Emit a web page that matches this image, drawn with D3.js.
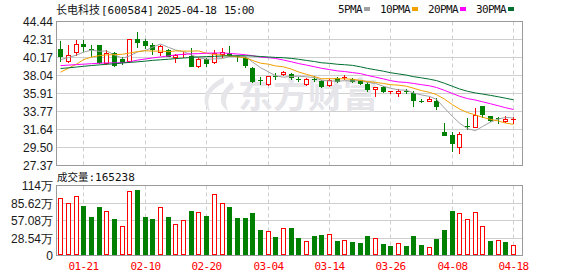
<!DOCTYPE html>
<html>
<head>
<meta charset="utf-8">
<script src="https://d3js.org/d3.v7.min.js"></script>
<style>
  html, body { margin: 0; padding: 0; background: #fff; }
  svg { display: block; }
</style>
</head>
<body>
<script>
// daily bars, 2025-01-16 .. 2025-04-18
const dates = ["01-16","01-17","01-20","01-21","01-22","01-23","01-24","01-27","02-05","02-06",
  "02-07","02-10","02-11","02-12","02-13","02-14","02-17","02-18","02-19","02-20",
  "02-21","02-24","02-25","02-26","02-27","02-28","03-03","03-04","03-05","03-06",
  "03-07","03-10","03-11","03-12","03-13","03-14","03-17","03-18","03-19","03-20",
  "03-21","03-24","03-25","03-26","03-27","03-28","03-31","04-01","04-02","04-03",
  "04-07","04-08","04-09","04-10","04-11","04-14","04-15","04-16","04-17","04-18"];

const opens = [41.19, 39.72, 40.81, 41.82, 41.22, 41.62, 39.53, 40.72, 40.00, 39.72,
  42.38, 42.18, 41.70, 40.79, 41.11, 40.24, 40.46, 40.40, 39.12, 40.00,
  39.68, 40.63, 40.69, 40.40, 40.10, 38.93, 37.45, 37.07, 37.97, 38.22,
  38.25, 37.58, 37.07, 37.62, 37.42, 36.91, 37.74, 37.80, 37.62, 37.46,
  37.07, 36.41, 36.67, 36.15, 35.98, 36.23, 35.96, 35.07, 35.04, 35.04,
  31.39, 30.99, 29.61, 32.03, 31.99, 34.45, 33.26, 33.00, 32.70, 32.75];

const highs = [42.18, 41.62, 42.30, 42.22, 41.70, 41.70, 41.03, 40.79, 40.24, 42.42,
  43.17, 42.38, 41.86, 41.70, 41.23, 40.63, 40.87, 41.26, 40.22, 40.16,
  41.11, 41.35, 41.55, 40.48, 40.19, 39.05, 37.86, 38.02, 38.29, 38.61,
  38.29, 37.90, 37.72, 37.98, 37.54, 37.62, 37.86, 38.14, 37.74, 37.54,
  37.24, 36.71, 36.74, 36.18, 36.41, 36.41, 36.20, 35.28, 35.44, 35.34,
  32.42, 31.39, 31.39, 32.99, 34.17, 34.45, 33.28, 33.17, 33.22, 33.10];

const lows = [39.72, 39.65, 40.46, 40.99, 40.39, 39.53, 39.41, 39.21, 39.41, 39.62,
  41.47, 41.31, 40.63, 40.48, 40.31, 39.60, 40.24, 39.12, 39.05, 39.21,
  39.50, 40.22, 40.34, 39.80, 39.05, 37.24, 36.98, 36.95, 37.62, 38.14,
  37.60, 37.40, 36.95, 37.40, 36.67, 36.74, 37.22, 37.66, 37.22, 37.07,
  36.23, 35.58, 36.08, 35.93, 35.64, 35.99, 34.45, 34.84, 35.01, 34.09,
  31.03, 29.13, 28.89, 31.68, 31.99, 33.11, 32.66, 32.40, 32.55, 32.42];

const closes = [40.31, 40.48, 41.80, 41.50, 41.15, 39.59, 40.75, 39.33, 39.68, 42.38,
  42.03, 41.62, 41.23, 41.59, 40.40, 40.48, 40.63, 39.21, 39.98, 39.53,
  40.69, 40.79, 40.46, 40.22, 39.33, 37.42, 37.40, 37.98, 37.93, 38.46,
  37.90, 37.52, 37.58, 37.55, 36.83, 37.46, 37.42, 37.84, 37.36, 37.18,
  36.41, 36.67, 36.20, 36.17, 36.22, 36.19, 35.08, 35.02, 35.28, 34.48,
  31.03, 30.08, 31.12, 31.95, 33.35, 33.45, 32.72, 32.95, 32.90, 32.93];

// volume in 万手
const volumes = [93.8, 85.5, 97.1, 81.0, 62.9, 79.4, 72.8, 59.6, 47.4, 105.4,
  106.4, 62.9, 59.6, 78.9, 62.9, 51.3, 57.9, 72.8, 70.6, 64.5,
  100.9, 86.0, 78.3, 61.8, 61.8, 70.0, 41.4, 39.7, 29.8, 44.1,
  45.2, 28.1, 23.2, 31.4, 33.1, 34.7, 23.2, 24.8, 22.1, 20.4,
  31.4, 28.1, 18.2, 14.9, 19.9, 14.9, 31.4, 16.5, 14.3, 26.5,
  41.4, 72.8, 69.0, 59.0, 70.6, 47.4, 23.2, 25.9, 21.5, 16.52];

const prevClose = 40.10;   // close of 01-15

// MA values before a full window is on screen
const ma5Head = [39.92, 40.16, 40.46, 40.81];
const ma10Head = [38.43, 38.91, 39.39, 39.92, 40.22, 40.40, 40.48, 40.51, 40.56];
const ma20Head = [39.21, 39.27, 39.33, 39.38, 39.44, 39.49, 39.53, 39.54, 39.56, 39.66,
  39.86, 40.00, 40.12, 40.24, 40.36, 40.48, 40.55, 40.61, 40.63];
const ma30Head = [38.87, 38.95, 39.04, 39.13, 39.22, 39.30, 39.37, 39.43, 39.52, 39.59,
  39.66, 39.74, 39.83, 39.90, 39.97, 40.04, 40.11, 40.18, 40.24, 40.28,
  40.31, 40.35, 40.37, 40.38, 40.38, 40.35, 40.29, 40.23, 40.18];

const priceTicks = [44.44, 42.31, 40.17, 38.04, 35.91, 33.77, 31.64, 29.50, 27.37];
const volTicks = [0, 28.54, 57.08, 85.62, 114.16];
const volTickLabels = ["0", "28.54万", "57.08万", "85.62万", "114万"];
const dateTicks = ["01-21", "02-10", "02-20", "03-04", "03-14", "03-26", "04-08", "04-18"];
const maNames = ["5PMA", "10PMA", "20PMA", "30PMA"];

const stockTitle = "长电科技";
const stockCode = "[600584]";
const stamp = ["2025-04-18", "15:00"];
const volTitle = "成交量:165238";

const WIDTH = 578, HEIGHT = 276;
const PLOT_L = 56.5, PLOT_R = 522.5;
const MAIN_T = 21.5, MAIN_B = 165.5, VOL_T = 185.5, VOL_B = 255.5;
const RED = "#ff0000", GREEN = "#008000";
const MA_COLORS = ["#a0a0a0", "#f2a100", "#ff00ff", "#006f30"];
const MONO = "'DejaVu Sans Mono', monospace";
const CJK = "'Noto Sans CJK SC', sans-serif";
const SANS = "'Liberation Sans', Arial, sans-serif";

const svg = d3.select("body").append("svg")
    .attr("width", WIDTH)
    .attr("height", HEIGHT);

const x = d3.scaleBand().domain(dates).range([57, 517.5]);
const cx = d => Math.floor(x(d) + x.bandwidth() / 2) + 0.5;
const y = d3.scaleLinear().domain([27.37, 44.44]).range([MAIN_B, MAIN_T]);
const yv = d3.scaleLinear().domain([0, 114.16]).range([VOL_B, VOL_T]);
const snap = v => Math.floor(v) + 0.5;

// grid + frames
function drawPanel(top, bottom, scale, ticks) {
    const g = svg.append("g");
    g.selectAll(".h").data(ticks).enter().append("line")
        .attr("x1", PLOT_L).attr("x2", PLOT_R)
        .attr("y1", d => snap(scale(d))).attr("y2", d => snap(scale(d)))
        .attr("stroke", "#cfcfcf");
    g.selectAll(".v").data(dateTicks).enter().append("line")
        .attr("x1", d => cx(d)).attr("x2", d => cx(d))
        .attr("y1", top).attr("y2", bottom)
        .attr("stroke", "#cfcfcf")
        .attr("stroke-dasharray", "4,3");
    g.append("rect")
        .attr("x", PLOT_L).attr("y", top)
        .attr("width", PLOT_R - PLOT_L).attr("height", bottom - top)
        .attr("fill", "none").attr("stroke", "#9a9a9a");
}
drawPanel(MAIN_T, MAIN_B, y, priceTicks);
drawPanel(VOL_T, VOL_B, yv, volTicks);

// watermark
const wm = svg.append("g").attr("fill", "#e5e5ea");
wm.append("path")
    .attr("d", "M224,77 C206,86 198,100 211,113 C205,100 209,90 224,83 Z M232,82 C219,93 217,103 228,111 C224,101 226,93 234,88 Z");
wm.append("text")
    .attr("x", 238).attr("y", 108)
    .attr("font-family", CJK).attr("font-weight", "bold")
    .attr("font-size", 35)
    .text("东方财富");

const bars = dates.map((d, i) => ({
    date: d, o: opens[i], h: highs[i], l: lows[i], c: closes[i], v: volumes[i],
    volUp: closes[i] >= (i ? closes[i - 1] : prevClose)
}));

// candles
const candle = svg.append("g").selectAll("g")
    .data(bars)
    .enter().append("g");

candle.append("line")
    .attr("x1", d => cx(d.date)).attr("x2", d => cx(d.date))
    .attr("y1", d => Math.round(y(d.h))).attr("y2", d => Math.round(y(d.l)) + 1)
    .attr("stroke", d => d.c >= d.o ? RED : GREEN);

candle.append("rect")
    .each(function(d) {
        const top = Math.round(y(Math.max(d.o, d.c)));
        const bot = Math.round(y(Math.min(d.o, d.c)));
        const up = d.c >= d.o;
        const r = d3.select(this);
        if (bot - top < 2) {
            // flat body: a short bar
            r.attr("x", cx(d.date) - 2.5).attr("y", top).attr("width", 5).attr("height", 1)
                .attr("fill", up ? RED : GREEN);
        } else if (up) {
            r.attr("x", cx(d.date) - 2).attr("y", top + 0.5).attr("width", 4).attr("height", bot - top)
                .attr("fill", "#fff").attr("stroke", RED);
        } else {
            r.attr("x", cx(d.date) - 2.5).attr("y", top).attr("width", 5).attr("height", bot - top + 1)
                .attr("fill", GREEN);
        }
    });

// moving averages
function movingAverage(n, head) {
    return closes.map((c, i) => i < n - 1 ? head[i] : d3.mean(closes.slice(i - n + 1, i + 1)));
}
const maSeries = [movingAverage(5, ma5Head), movingAverage(10, ma10Head),
    movingAverage(20, ma20Head), movingAverage(30, ma30Head)];
const line = d3.line().x((d, i) => cx(dates[i])).y(d => y(d));
svg.append("g").selectAll("path")
    .data(maSeries)
    .enter().append("path")
    .attr("d", line)
    .attr("fill", "none")
    .attr("stroke", (d, i) => MA_COLORS[i])
    .attr("stroke-width", 1);

// volume
svg.append("g").selectAll("rect")
    .data(bars)
    .enter().append("rect")
    .each(function(d) {
        const top = Math.round(yv(d.v));
        const r = d3.select(this);
        if (d.volUp) {
            r.attr("x", cx(d.date) - 2).attr("y", top + 0.5).attr("width", 4).attr("height", 255 - top - 1)
                .attr("fill", "#fff").attr("stroke", RED);
        } else {
            r.attr("x", cx(d.date) - 2.5).attr("y", top).attr("width", 5).attr("height", 255 - top)
                .attr("fill", GREEN);
        }
    });

// y labels
svg.append("g").selectAll("text")
    .data(priceTicks)
    .enter().append("text")
    .attr("x", 53).attr("y", d => y(d) + 4.5)
    .attr("text-anchor", "end")
    .attr("font-family", SANS).attr("font-size", 12)
    .attr("fill", "#1a1a1a")
    .text(d => d.toFixed(2));

svg.append("g").selectAll("text")
    .data(volTicks)
    .enter().append("text")
    .attr("x", 53).attr("y", d => yv(d) + 4.5)
    .attr("text-anchor", "end")
    .attr("font-family", SANS).attr("font-size", 12)
    .attr("fill", "#1a1a1a")
    .text((d, i) => volTickLabels[i]);

// date labels
svg.append("g").selectAll("text")
    .data(dateTicks)
    .enter().append("text")
    .attr("x", d => cx(d)).attr("y", 269.5)
    .attr("text-anchor", "middle")
    .attr("font-family", MONO).attr("font-size", 11)
    .attr("letter-spacing", -0.6)
    .attr("fill", RED)
    .text(d => d);

// title
const title = svg.append("text").attr("y", 14).attr("fill", "#111");
title.append("tspan").attr("x", 56).attr("font-family", CJK).attr("font-size", 11).text(stockTitle);
title.append("tspan").attr("x", 101).attr("font-family", MONO).attr("font-size", 11).text(stockCode);
title.append("tspan").attr("x", 157).attr("font-family", MONO).attr("font-size", 11)
    .attr("letter-spacing", -0.7).text(stamp[0]);
title.append("tspan").attr("x", 224).attr("font-family", MONO).attr("font-size", 11)
    .attr("letter-spacing", -0.7).text(stamp[1]);

// volume title
const vt = svg.append("text").attr("x", 57).attr("y", 181).attr("fill", "#111");
vt.append("tspan").attr("font-family", CJK).attr("font-size", 10.5).text(volTitle.slice(0, 3));
vt.append("tspan").attr("font-family", MONO).attr("font-size", 11).text(volTitle.slice(3));

// MA legend
let lx = 338;
maNames.forEach((name, i) => {
    const t = svg.append("text")
        .attr("x", lx).attr("y", 13)
        .attr("font-family", MONO).attr("font-size", 11)
        .attr("letter-spacing", -0.6)
        .attr("fill", "#111")
        .text(name);
    const w = t.node().getComputedTextLength();
    svg.append("rect")
        .attr("x", Math.round(lx + w + 2)).attr("y", 7)
        .attr("width", 6).attr("height", 4)
        .attr("fill", MA_COLORS[i]);
    lx = Math.round(lx + w + 2) + 6 + 10;
});
</script>
</body>
</html>
